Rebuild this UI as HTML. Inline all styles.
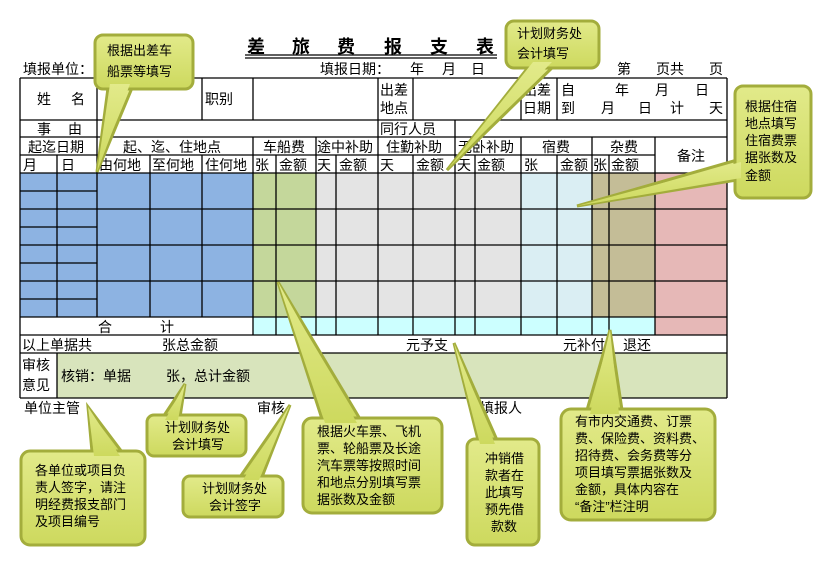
<!DOCTYPE html>
<html><head><meta charset="utf-8"><style>
html,body{margin:0;padding:0;background:#fff;}
svg{display:block;font-family:"Liberation Sans","Noto Sans CJK SC",sans-serif;}
text{font-size:14px;fill:#000;white-space:pre;}
.c text{font-size:13px;}
</style></head><body>
<svg width="829" height="561" viewBox="0 0 829 561" xmlns="http://www.w3.org/2000/svg" xml:space="preserve">
<defs>
<linearGradient id="g" x1="0" y1="0" x2="0" y2="1"><stop offset="0" stop-color="#e2ea8a"/><stop offset="1" stop-color="#cdd95e"/></linearGradient>
</defs>
<rect x="20" y="173" width="233" height="144" fill="#8db3e2"/>
<rect x="253" y="173" width="63" height="144" fill="#c4d79b"/>
<rect x="316" y="173" width="205" height="144" fill="#e4e4e4"/>
<rect x="521" y="173" width="71" height="144" fill="#daeef3"/>
<rect x="592" y="173" width="63" height="144" fill="#c4bd97"/>
<rect x="655" y="173" width="72" height="162" fill="#e6b8b7"/>
<rect x="253" y="317" width="402" height="18" fill="#ccffff"/>
<rect x="57" y="353" width="670" height="45" fill="#d8e4bc"/>
<g stroke="#000" stroke-width="1.3" fill="none">
<line x1="20" y1="78" x2="727" y2="78"/><line x1="20" y1="120" x2="727" y2="120"/><line x1="20" y1="137" x2="727" y2="137"/>
<line x1="20" y1="155" x2="655" y2="155"/><line x1="20" y1="173" x2="727" y2="173"/>
<line x1="20" y1="209" x2="727" y2="209"/><line x1="20" y1="245" x2="727" y2="245"/><line x1="20" y1="281" x2="727" y2="281"/>
<line x1="20" y1="317" x2="727" y2="317"/><line x1="20" y1="335" x2="727" y2="335"/><line x1="20" y1="353" x2="727" y2="353"/><line x1="20" y1="398" x2="727" y2="398"/>
<line x1="20" y1="191" x2="97" y2="191"/><line x1="20" y1="227" x2="97" y2="227"/><line x1="20" y1="263" x2="97" y2="263"/><line x1="20" y1="299" x2="97" y2="299"/>
<line x1="20" y1="78" x2="20" y2="398"/><line x1="727" y1="78" x2="727" y2="398"/>
<line x1="97" y1="78" x2="97" y2="137"/><line x1="202" y1="78" x2="202" y2="120"/><line x1="253" y1="78" x2="253" y2="120"/>
<line x1="378" y1="78" x2="378" y2="137"/><line x1="413" y1="78" x2="413" y2="120"/><line x1="521" y1="78" x2="521" y2="120"/><line x1="557" y1="78" x2="557" y2="120"/>
<line x1="455" y1="120" x2="455" y2="137"/>
<line x1="97" y1="137" x2="97" y2="317"/><line x1="253" y1="137" x2="253" y2="335"/><line x1="316" y1="137" x2="316" y2="335"/>
<line x1="378" y1="137" x2="378" y2="335"/><line x1="455" y1="137" x2="455" y2="335"/><line x1="521" y1="137" x2="521" y2="335"/>
<line x1="592" y1="137" x2="592" y2="335"/><line x1="655" y1="137" x2="655" y2="335"/>
<line x1="57" y1="155" x2="57" y2="317"/><line x1="150" y1="155" x2="150" y2="317"/><line x1="202" y1="155" x2="202" y2="317"/>
<line x1="276" y1="155" x2="276" y2="335"/><line x1="336" y1="155" x2="336" y2="335"/><line x1="413" y1="155" x2="413" y2="335"/>
<line x1="475" y1="155" x2="475" y2="335"/><line x1="557" y1="155" x2="557" y2="335"/><line x1="609" y1="155" x2="609" y2="335"/>
<line x1="57" y1="353" x2="57" y2="398"/>
<line x1="245" y1="55" x2="497" y2="55"/><line x1="245" y1="58" x2="497" y2="58"/>
</g>
<g font-weight="bold">
<text x="247" y="53" style="font-size:18px">差</text><text x="292" y="53" style="font-size:18px">旅</text><text x="337" y="53" style="font-size:18px">费</text><text x="384" y="53" style="font-size:18px">报</text><text x="430" y="53" style="font-size:18px">支</text><text x="476" y="53" style="font-size:18px">表</text>
</g>
<text x="23" y="74">填报单位：</text>
<text x="320" y="74">填报日期：</text><text x="410" y="74">年</text><text x="442" y="74">月</text><text x="471" y="74">日</text>
<text x="617" y="74">第</text><text x="656" y="74">页共</text><text x="709" y="74">页</text>
<text x="37" y="104">姓</text><text x="71" y="104">名</text><text x="205" y="104">职别</text>
<text x="380" y="95">出差</text><text x="380" y="113">地点</text>
<text x="523" y="95">出差</text><text x="523" y="113">日期</text>
<text x="561" y="95">自</text><text x="615" y="95">年</text><text x="655" y="95">月</text><text x="695" y="95">日</text>
<text x="561" y="113">到</text><text x="601" y="113">月</text><text x="638" y="113">日</text><text x="670" y="113">计</text><text x="709" y="113">天</text>
<text x="37" y="134">事</text><text x="68" y="134">由</text><text x="380" y="134">同行人员</text>
<text x="28" y="152">起迄日期</text><text x="123" y="152">起、迄、住地点</text><text x="263" y="152">车船费</text>
<text x="317" y="152">途中补助</text><text x="386" y="152">住勤补助</text><text x="458" y="152">无卧补助</text>
<text x="542" y="152">宿费</text><text x="610" y="152">杂费</text><text x="677" y="161">备注</text>
<text x="23" y="170">月</text><text x="61" y="170">日</text><text x="99" y="170">由何地</text><text x="152" y="170">至何地</text><text x="205" y="170">住何地</text>
<text x="255" y="170">张</text><text x="279" y="170">金额</text><text x="317" y="170">天</text><text x="339" y="170">金额</text><text x="380" y="170">天</text><text x="416" y="170">金额</text>
<text x="457" y="170">天</text><text x="477" y="170">金额</text><text x="524" y="170">张</text><text x="560" y="170">金额</text><text x="593" y="170">张</text><text x="611" y="170">金额</text>
<text x="98" y="332">合</text><text x="160" y="332">计</text>
<text x="22" y="350">以上单据共</text><text x="162" y="350">张总金额</text><text x="406" y="350">元予支</text><text x="563" y="350">元补付</text><text x="623" y="350">退还</text>
<text x="22" y="370">审核</text><text x="22" y="390">意见</text><text x="61" y="381">核销：单据</text><text x="166" y="381">张，总计金额</text>
<text x="24" y="413">单位主管</text><text x="257" y="413">审核</text><text x="480" y="413">填报人</text>
<g class="c" stroke="#a3ad3c" stroke-width="3" fill="url(#g)">
<polygon points="108,88 132,88 97,172"/><rect x="95" y="35" width="98" height="54" rx="8"/>
<polygon points="530,65 555,65 447,170"/><rect x="506" y="21" width="93" height="47" rx="8"/>
<polygon points="737,160 737,180 577,206"/><rect x="735" y="86" width="76" height="112" rx="8"/>
<polygon points="92,452 122,452 88,407"/><rect x="21" y="451" width="124" height="94" rx="9"/>
<polygon points="163,417 180,417 185,384"/><rect x="147" y="415" width="99" height="41" rx="7"/>
<polygon points="240,477 262,477 290,405"/><rect x="183" y="476" width="100" height="41" rx="7"/>
<polygon points="322,419 360,419 278,282"/><rect x="303" y="418" width="139" height="95" rx="9"/>
<polygon points="478,440 497,440 454,343"/><rect x="467" y="439" width="72" height="106" rx="8"/>
<polygon points="587,410 622,410 610,330"/><rect x="561" y="409" width="154" height="111" rx="10"/>
</g>
<g fill="url(#g)">
<polygon points="110,84 130,84 97,172"/>
<polygon points="533,62 552,62 447,170"/>
<polygon points="741,162 741,178 577,206"/>
<polygon points="94,456 120,456 88,407"/>
<polygon points="165,420 178,420 185,384"/>
<polygon points="243,480 259,480 290,405"/>
<polygon points="325,423 357,423 278,282"/>
<polygon points="480,444 495,444 454,343"/>
<polygon points="590,414 619,414 610,330"/>
</g>
<g class="c">
<text x="107" y="55">根据出差车</text><text x="107" y="76">船票等填写</text>
<text x="517" y="38">计划财务处</text><text x="517" y="58">会计填写</text>
<text x="745" y="111">根据住宿</text><text x="745" y="128">地点填写</text><text x="745" y="145">住宿费票</text><text x="745" y="162">据张数及</text><text x="745" y="180">金额</text>
<text x="35" y="475">各单位或项目负</text><text x="35" y="492">责人签字，请注</text><text x="35" y="509">明经费报支部门</text><text x="35" y="526">及项目编号</text>
<text x="165" y="432">计划财务处</text><text x="172" y="449">会计填写</text>
<text x="202" y="493">计划财务处</text><text x="209" y="510">会计签字</text>
<text x="317" y="436">根据火车票、飞机</text><text x="317" y="453">票、轮船票及长途</text><text x="317" y="470">汽车票等按照时间</text><text x="317" y="487">和地点分别填写票</text><text x="317" y="504">据张数及金额</text>
<text x="485" y="463">冲销借</text><text x="485" y="480">款者在</text><text x="485" y="497">此填写</text><text x="485" y="514">预先借</text><text x="491" y="531">款数</text>
<text x="575" y="426">有市内交通费、订票</text><text x="575" y="443">费、保险费、资料费、</text><text x="575" y="460">招待费、会务费等分</text><text x="575" y="477">项目填写票据张数及</text><text x="575" y="494">金额，具体内容在</text><text x="575" y="511">“备注”栏注明</text>
</g>
</svg>
</body></html>
